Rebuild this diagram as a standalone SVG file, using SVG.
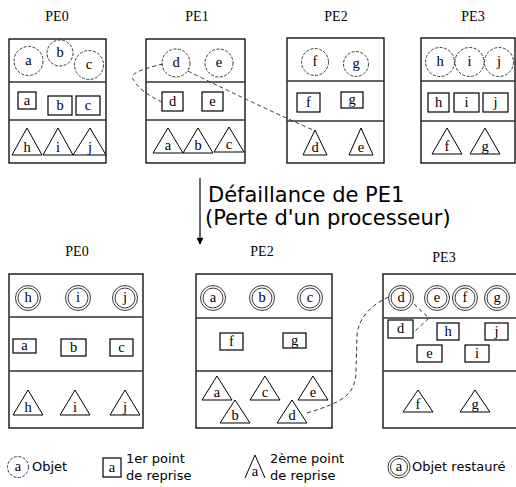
<svg xmlns="http://www.w3.org/2000/svg" width="516" height="487" viewBox="0 0 516 487">
  <style>
    .box { fill: none; stroke: #000; stroke-width: 1.3; }
    .div { stroke: #333; stroke-width: 1.5; }
    .pe { font-family: "Liberation Serif", serif; font-size: 14px; fill: #000; text-anchor: middle; }
    .lt { font-family: "Liberation Serif", serif; font-size: 14.5px; fill: #000; text-anchor: middle; }
    .obj { fill: #fff; stroke: #222; stroke-width: 0.9; stroke-dasharray: 3 1.5; }
    .rst { fill: #fff; stroke: #222; stroke-width: 0.9; }
    .ck1 { fill: #fff; stroke: #000; stroke-width: 1.2; }
    .ck2 { fill: #fff; stroke: #000; stroke-width: 1; }
    .link { fill: none; stroke: #333; stroke-width: 1; stroke-dasharray: 4 3; }
    .main { font-family: "DejaVu Sans", sans-serif; font-size: 21px; fill: #000; }
    .leg { font-family: "DejaVu Sans", sans-serif; font-size: 13px; fill: #000; }
  </style>
  <defs>
    <marker id="arrow" viewBox="0 0 10 10" refX="9" refY="5" markerWidth="14" markerHeight="7" orient="auto" markerUnits="userSpaceOnUse">
      <path d="M0,0 L10,5 L0,10 Z" fill="#000"/>
    </marker>
  </defs>

  <!-- processor labels -->
  <g id="labels">
    <text class="pe" x="57" y="21">PE0</text>
    <text class="pe" x="197" y="21">PE1</text>
    <text class="pe" x="336" y="21">PE2</text>
    <text class="pe" x="473" y="21">PE3</text>
    <text class="pe" x="77" y="256">PE0</text>
    <text class="pe" x="262" y="256">PE2</text>
    <text class="pe" x="444" y="262">PE3</text>
  </g>

  <!-- before failure: PE0 -->
  <g id="pe0-before">
    <rect class="box" x="9" y="39" width="97" height="124"/>
    <line class="div" x1="9" y1="82" x2="106" y2="82"/>
    <line class="div" x1="9" y1="120" x2="106" y2="120"/>
    <circle class="obj" cx="28.5" cy="61" r="14.5"/><text class="lt" x="28.5" y="65">a</text>
    <circle class="obj" cx="60" cy="53" r="13"/><text class="lt" x="60" y="57">b</text>
    <circle class="obj" cx="89" cy="65" r="14.5"/><text class="lt" x="89" y="69">c</text>
    <rect class="ck1" x="18" y="92" width="18" height="17"/><text class="lt" x="27" y="105">a</text>
    <rect class="ck1" x="48" y="96" width="24" height="19"/><text class="lt" x="60" y="110">b</text>
    <rect class="ck1" x="76" y="96" width="24" height="19"/><text class="lt" x="88" y="110">c</text>
    <polygon class="ck2" points="27,128 12,155 42,155"/><text class="lt" x="27" y="152">h</text>
    <polygon class="ck2" points="58,128 43,155 73,155"/><text class="lt" x="58" y="152">i</text>
    <polygon class="ck2" points="90,128 73,155 106,155"/><text class="lt" x="90" y="152">j</text>
  </g>

  <!-- before failure: PE1 -->
  <g id="pe1-before">
    <rect class="box" x="146" y="39" width="99" height="124"/>
    <line class="div" x1="146" y1="82" x2="245" y2="82"/>
    <line class="div" x1="146" y1="120" x2="245" y2="120"/>
    <circle class="obj" cx="176" cy="63" r="14"/><text class="lt" x="176" y="67">d</text>
    <circle class="obj" cx="219" cy="63" r="14"/><text class="lt" x="219" y="67">e</text>
    <rect class="ck1" x="162" y="92" width="21" height="19"/><text class="lt" x="172.5" y="106">d</text>
    <rect class="ck1" x="202" y="92" width="21" height="19"/><text class="lt" x="212.5" y="106">e</text>
    <polygon class="ck2" points="168,128 153,153 183,153"/><text class="lt" x="168" y="150">a</text>
    <polygon class="ck2" points="198,128 183,153 213,153"/><text class="lt" x="198" y="150">b</text>
    <polygon class="ck2" points="229,127 214,152 244,152"/><text class="lt" x="229" y="149">c</text>
  </g>

  <!-- before failure: PE2 -->
  <g id="pe2-before">
    <rect class="box" x="287" y="38" width="97" height="125"/>
    <line class="div" x1="287" y1="81" x2="384" y2="81"/>
    <line class="div" x1="287" y1="121" x2="384" y2="121"/>
    <circle class="obj" cx="315" cy="62" r="13.5"/><text class="lt" x="315" y="66">f</text>
    <circle class="obj" cx="356" cy="64" r="12.5"/><text class="lt" x="356" y="68">g</text>
    <rect class="ck1" x="297" y="93" width="23" height="19"/><text class="lt" x="308.5" y="107">f</text>
    <rect class="ck1" x="341" y="92" width="22" height="16"/><text class="lt" x="352" y="104">g</text>
    <polygon class="ck2" points="315,130 303,155 327,155"/><text class="lt" x="315" y="152">d</text>
    <polygon class="ck2" points="361,128 349,155 373,155"/><text class="lt" x="361" y="152">e</text>
  </g>

  <!-- before failure: PE3 -->
  <g id="pe3-before">
    <rect class="box" x="421" y="38" width="94" height="125"/>
    <line class="div" x1="421" y1="81" x2="515" y2="81"/>
    <line class="div" x1="421" y1="121" x2="515" y2="121"/>
    <circle class="obj" cx="440" cy="62" r="14.5"/><text class="lt" x="440" y="66">h</text>
    <circle class="obj" cx="469.5" cy="62" r="14.5"/><text class="lt" x="469.5" y="66">i</text>
    <circle class="obj" cx="499" cy="62" r="14.5"/><text class="lt" x="499" y="66">j</text>
    <rect class="ck1" x="428" y="93" width="21" height="19"/><text class="lt" x="438.5" y="107">h</text>
    <rect class="ck1" x="454" y="93" width="25" height="19"/><text class="lt" x="466.5" y="107">i</text>
    <rect class="ck1" x="483" y="93" width="25" height="19"/><text class="lt" x="495.5" y="107">j</text>
    <polygon class="ck2" points="447,128 432,154 462,154"/><text class="lt" x="447" y="151">f</text>
    <polygon class="ck2" points="485,128 470,154 500,154"/><text class="lt" x="485" y="151">g</text>
  </g>

  <!-- failure event -->
  <g id="event">
    <line x1="200" y1="178" x2="200" y2="244" stroke="#000" stroke-width="1.2" marker-end="url(#arrow)"/>
    <text class="main" x="208" y="202">Défaillance de PE1</text>
    <text class="main" x="205" y="225">(Perte d'un processeur)</text>
  </g>

  <!-- after failure: PE0 -->
  <g id="pe0-after">
    <rect class="box" x="9" y="274" width="134" height="154"/>
    <line class="div" x1="9" y1="317" x2="143" y2="317"/>
    <line class="div" x1="9" y1="371" x2="143" y2="371"/>
    <circle class="rst" cx="28" cy="298" r="12.5"/><circle class="rst" cx="28" cy="298" r="10"/><text class="lt" x="28" y="302">h</text>
    <circle class="rst" cx="78" cy="298" r="12.5"/><circle class="rst" cx="78" cy="298" r="10"/><text class="lt" x="78" y="302">i</text>
    <circle class="rst" cx="125" cy="298" r="12.5"/><circle class="rst" cx="125" cy="298" r="10"/><text class="lt" x="125" y="302">j</text>
    <rect class="ck1" x="13" y="339" width="23" height="14"/><text class="lt" x="24.5" y="350">a</text>
    <rect class="ck1" x="61" y="339" width="25" height="17"/><text class="lt" x="73.5" y="352">b</text>
    <rect class="ck1" x="110" y="339" width="23" height="17"/><text class="lt" x="121.5" y="352">c</text>
    <polygon class="ck2" points="28,390 13,415 43,415"/><text class="lt" x="28" y="412">h</text>
    <polygon class="ck2" points="75,390 60,415 90,415"/><text class="lt" x="75" y="412">i</text>
    <polygon class="ck2" points="125,390 110,415 140,415"/><text class="lt" x="125" y="412">j</text>
  </g>

  <!-- after failure: PE2 -->
  <g id="pe2-after">
    <rect class="box" x="196" y="274" width="136" height="154"/>
    <line class="div" x1="196" y1="318" x2="332" y2="318"/>
    <line class="div" x1="196" y1="371" x2="332" y2="371"/>
    <circle class="rst" cx="213" cy="298" r="12.5"/><circle class="rst" cx="213" cy="298" r="10"/><text class="lt" x="213" y="302">a</text>
    <circle class="rst" cx="262" cy="298" r="12.5"/><circle class="rst" cx="262" cy="298" r="10"/><text class="lt" x="262" y="302">b</text>
    <circle class="rst" cx="310" cy="298" r="12.5"/><circle class="rst" cx="310" cy="298" r="10"/><text class="lt" x="310" y="302">c</text>
    <rect class="ck1" x="220" y="333" width="23" height="17"/><text class="lt" x="231.5" y="346">f</text>
    <rect class="ck1" x="283" y="333" width="23" height="15"/><text class="lt" x="294.5" y="345">g</text>
    <polygon class="ck2" points="217,376 202,400 232,400"/><text class="lt" x="217" y="397">a</text>
    <polygon class="ck2" points="265,376 250,400 280,400"/><text class="lt" x="265" y="397">c</text>
    <polygon class="ck2" points="313,376 298,400 328,400"/><text class="lt" x="313" y="397">e</text>
    <polygon class="ck2" points="235,400 220,423 250,423"/><text class="lt" x="235" y="420">b</text>
    <polygon class="ck2" points="292,400 277,423 307,423"/><text class="lt" x="292" y="420">d</text>
  </g>

  <!-- after failure: PE3 -->
  <g id="pe3-after">
    <rect class="box" x="383" y="274" width="134" height="154"/>
    <line class="div" x1="383" y1="318" x2="516" y2="318"/>
    <line class="div" x1="383" y1="371" x2="516" y2="371"/>
    <circle class="rst" cx="401" cy="298" r="12.5"/><circle class="rst" cx="401" cy="298" r="10"/><text class="lt" x="401" y="302">d</text>
    <circle class="rst" cx="437" cy="298" r="12.5"/><circle class="rst" cx="437" cy="298" r="10"/><text class="lt" x="437" y="302">e</text>
    <circle class="rst" cx="465" cy="298" r="12.5"/><circle class="rst" cx="465" cy="298" r="10"/><text class="lt" x="465" y="302">f</text>
    <circle class="rst" cx="497" cy="298" r="12.5"/><circle class="rst" cx="497" cy="298" r="10"/><text class="lt" x="497" y="302">g</text>
    <rect class="ck1" x="388" y="320" width="25" height="18"/><text class="lt" x="400.5" y="333">d</text>
    <rect class="ck1" x="437" y="323" width="22" height="17"/><text class="lt" x="448" y="336">h</text>
    <rect class="ck1" x="485" y="323" width="23" height="17"/><text class="lt" x="496.5" y="336">j</text>
    <rect class="ck1" x="417" y="345" width="25" height="17"/><text class="lt" x="429.5" y="358">e</text>
    <rect class="ck1" x="465" y="345" width="24" height="17"/><text class="lt" x="477" y="358">i</text>
    <polygon class="ck2" points="418,390 403,412 433,412"/><text class="lt" x="418" y="409">f</text>
    <polygon class="ck2" points="475,390 460,412 490,412"/><text class="lt" x="475" y="409">g</text>
  </g>

  <!-- object / checkpoint links -->
  <g id="connectors">
    <path class="link" d="M163,64 Q128,72 133,79 Q140,92 162,102"/>
    <path class="link" d="M188,71 Q250,102 313,130"/>
    <path class="link" d="M307,413 C343,402 356,395 356,370 L357,335 C359,315 375,303 389,297"/>
    <path class="link" d="M414,304 L429,318 L413,333"/>
  </g>

  <!-- legend -->
  <g id="legend">
    <circle class="obj" cx="18" cy="467" r="10.5"/><text class="lt" x="18" y="471">a</text>
    <text class="leg" x="32" y="471">Objet</text>
    <rect class="ck1" x="103" y="458" width="18" height="19"/><text class="lt" x="112" y="472">a</text>
    <text class="leg" x="126" y="463">1er point</text>
    <text class="leg" x="126" y="480">de reprise</text>
    <path d="M255,455 L245,478 M255,455 L265,478" fill="none" stroke="#000" stroke-width="1"/>
    <text class="lt" x="255" y="476">a</text>
    <text class="leg" x="270" y="463">2ème point</text>
    <text class="leg" x="270" y="480">de reprise</text>
    <circle class="rst" cx="399" cy="467" r="11"/><circle class="rst" cx="399" cy="467" r="8.5"/><text class="lt" x="399" y="471">a</text>
    <text class="leg" x="412" y="471">Objet restauré</text>
  </g>
</svg>
